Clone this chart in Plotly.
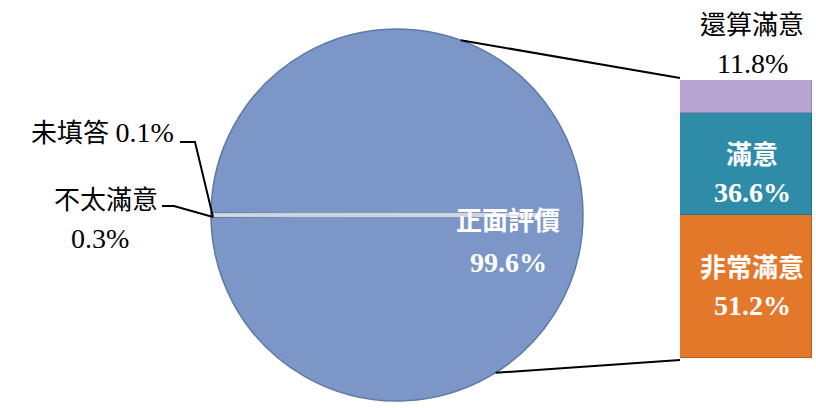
import math
import plotly.graph_objects as go

# ---- data ----
pie_labels = ["不太滿意", "未填答", "正面評價"]
pie_values = [0.3, 0.1, 99.6]
bar_labels = ["非常滿意", "滿意", "還算滿意"]
bar_values = [51.2, 36.6, 11.8]

W, H = 816, 408
FONT = "Liberation Serif, Times New Roman, Noto Sans CJK TC, serif"

def px(x):
    return x / W

def py(y):
    return 1 - y / H

# pie geometry (pixels)
cx, cy, r = 397, 215, 186
pie_dom_x = [px(cx - r), px(cx + r)]
pie_dom_y = [py(cy + r), py(cy - r)]

fig = go.Figure()

small_share = (pie_values[0] + pie_values[1]) / sum(pie_values) * 360
fig.add_trace(go.Pie(
    labels=pie_labels, values=pie_values, sort=False,
    direction="clockwise", rotation=270 - small_share / 2,
    marker=dict(colors=["#D6DAE1", "#E3E6EA", "#7C97C7"],
                line=dict(color="#5E79A8", width=1.5)),
    textinfo="none", hoverinfo="label+percent", showlegend=False,
    domain=dict(x=pie_dom_x, y=pie_dom_y),
))

bar_colors = ["#E3782A", "#2E8CA8", "#B7A4D2"]
for lab, val, col in zip(bar_labels, bar_values, bar_colors):
    fig.add_trace(go.Bar(
        x=[0], y=[val], name=lab,
        marker=dict(color=col, line=dict(color="rgba(0,0,0,0.2)", width=1)),
        width=1, xaxis="x", yaxis="y", showlegend=False, hoverinfo="name+y",
    ))

bar_x0, bar_x1, bar_top, bar_bot = 680, 812, 80, 358
total = sum(bar_values)

fig.update_layout(
    width=W, height=H, margin=dict(l=0, r=0, t=0, b=0),
    paper_bgcolor="white", plot_bgcolor="rgba(0,0,0,0)",
    barmode="stack", bargap=0,
    xaxis=dict(domain=[px(bar_x0), px(bar_x1)], range=[-0.5, 0.5], visible=False, fixedrange=True),
    yaxis=dict(domain=[py(bar_bot), py(bar_top)], range=[0, total], visible=False, fixedrange=True),
)

shapes = []
# connectors from pie to bar
a_top, a_bot = math.radians(70), math.radians(-58)
shapes.append(dict(type="line", xref="paper", yref="paper",
                   x0=px(cx + r * math.cos(a_top)), y0=py(cy - r * math.sin(a_top)),
                   x1=px(bar_x0), y1=py(bar_top - 2), line=dict(color="black", width=2)))
shapes.append(dict(type="line", xref="paper", yref="paper",
                   x0=px(cx + r * math.cos(a_bot)), y0=py(cy - r * math.sin(a_bot)),
                   x1=px(bar_x0), y1=py(bar_bot + 2), line=dict(color="black", width=2)))
# light bevel line across pie
shapes.append(dict(type="line", xref="paper", yref="paper",
                   x0=px(cx - r + 1), y0=py(cy), x1=px(cx + r - 40), y1=py(cy),
                   line=dict(color="rgba(215,219,226,0.9)", width=4)))
# leader lines for small slices
edge = (px(cx - r + 2), py(cy + 2))
shapes.append(dict(type="path", xref="paper", yref="paper",
                   path=f"M {px(180)} {py(142)} L {px(195)} {py(142)} L {edge[0]} {edge[1]}",
                   line=dict(color="black", width=2)))
shapes.append(dict(type="path", xref="paper", yref="paper",
                   path=f"M {px(162)} {py(206)} L {px(174)} {py(206)} L {edge[0]} {edge[1]}",
                   line=dict(color="black", width=2)))
fig.update_layout(shapes=shapes)

def ann(text, x, y, color="black", bold=False, size=26, xanchor="center"):
    t = f"<b>{text}</b>" if bold else text
    return dict(text=t, x=px(x), y=py(y), xref="paper", yref="paper", showarrow=False,
                xanchor=xanchor, yanchor="middle",
                font=dict(family=FONT, size=size, color=color))

pct = lambda v: f"{v:.1f}%"
NUM = 28
anns = [
    ann(pie_labels[2], 508, 222, "white", True),
    ann(pct(pie_values[2]), 508, 262, "white", True, NUM),
    ann(f"{pie_labels[1]} <span style='font-size:{NUM}px'>{pct(pie_values[1])}</span>", 176, 133, xanchor="right"),
    ann(pie_labels[0], 160, 200, xanchor="right"),
    ann(pct(pie_values[0]), 100, 238, size=NUM),
    ann(bar_labels[2], 752, 25),
    ann(pct(bar_values[2]), 752, 63, size=NUM),
    ann(bar_labels[1], 752, 155, "white", True),
    ann(pct(bar_values[1]), 752, 192, "white", True, NUM),
    ann(bar_labels[0], 752, 268, "white", True),
    ann(pct(bar_values[0]), 752, 305, "white", True, NUM),
]
fig.update_layout(annotations=anns)

fig.write_html("out.html")
